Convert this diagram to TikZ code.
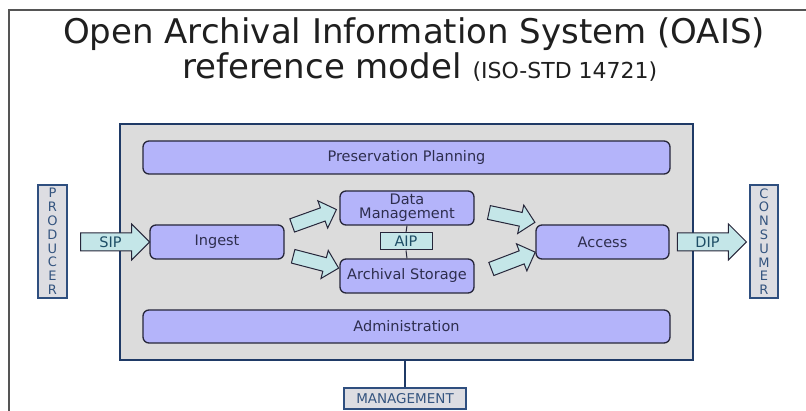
\documentclass[tikz,border=0pt]{standalone}
\usepackage{fontspec}
\setmainfont{DejaVu Sans}
\usetikzlibrary{shapes.arrows,calc}

\definecolor{framegray}{HTML}{555555}
\definecolor{navy}{HTML}{1F3A66}
\definecolor{panelgray}{HTML}{DCDCDC}
\definecolor{lavender}{HTML}{B4B4FA}
\definecolor{boxline}{HTML}{26263A}
\definecolor{boxtext}{HTML}{2E2E4E}
\definecolor{aqua}{HTML}{C4E6E8}
\definecolor{aquatext}{HTML}{1E4E66}
\definecolor{actorgray}{HTML}{DDDDE2}
\definecolor{actorline}{HTML}{2F4F7F}
\definecolor{actortext}{HTML}{34547F}

\tikzset{
  funcbox/.style={draw=boxline, line width=1.3pt, fill=lavender, rounded corners=6pt,
    inner sep=0pt, text=boxtext, font=\fontsize{14.5}{14}\selectfont, align=center},
  actorbox/.style={draw=actorline, line width=1.5pt, fill=actorgray, inner sep=0pt,
    text=actortext, align=center, font=\fontsize{13}{13.8}\selectfont},
  fatarrow/.style={single arrow, draw=boxline, line width=1pt, fill=aqua,
    single arrow head extend=8pt, inner xsep=0pt, text=aquatext,
    font=\fontsize{14.5}{14}\selectfont},
  bigarrow/.style={fatarrow, single arrow head extend=9pt,
    text height=10.5pt, text depth=0pt, inner ysep=3.25pt},
  smallarrow/.style={fatarrow, single arrow head extend=7.5pt,
    inner ysep=6.5pt, minimum height=47pt},
  link/.style={draw=boxline, line width=1pt},
}

\begin{document}
\begin{tikzpicture}[x=1pt, y=-1pt]
  \useasboundingbox (0,0) rectangle (806,411);
  \fill[white] (0,0) rectangle (806,411);

  % slide frame
  \draw[framegray, line width=1.5pt] (9,411) -- (9,10) -- (806,10);

  % title
  \node[text=black!88, font=\fontsize{34}{34}\selectfont] (title1) at (414,34)
    {Open Archival Information System (OAIS)};
  \node[text=black!88, font=\fontsize{34}{34}\selectfont] (title2) at (420,67)
    {reference model {\fontsize{22}{22}\selectfont (ISO-STD 14721)}};

  % OAIS panel
  \node[draw=navy, line width=2.5pt, fill=panelgray, minimum width=573pt,
        minimum height=236pt, inner sep=0pt] (oais) at (406.5,242) {};

  % functional entities
  \node[funcbox, minimum width=527pt, minimum height=33pt] (pp) at (406.5,157.5)
    {Preservation Planning};
  \node[funcbox, minimum width=134pt, minimum height=34pt] (ingest) at (217,242)
    {Ingest};
  \node[funcbox, minimum width=134pt, minimum height=34pt] (dm) at (407,208)
    {Data\\Management};
  \node[funcbox, minimum width=134pt, minimum height=34pt] (as) at (407,276)
    {Archival Storage};
  \node[funcbox, minimum width=133pt, minimum height=34pt] (access) at (602.5,242)
    {Access};
  \node[funcbox, minimum width=527pt, minimum height=33pt] (admin) at (406.5,326.5)
    {Administration};

  % AIP between data management and archival storage
  \node[draw=boxline, line width=1pt, fill=aqua, minimum width=52pt,
        minimum height=17pt, inner sep=0pt, text=aquatext,
        font=\fontsize{14.5}{14}\selectfont] (aip) at (406,241.5) {AIP};
  \draw[link] (dm.south) -- (aip.north);
  \draw[link] (aip.south) -- (as.north);

  % external entities
  \node[actorbox, minimum width=29pt, minimum height=113pt] (producer) at (52.5,241.5)
    {P\\R\\O\\D\\U\\C\\E\\R};
  \node[actorbox, minimum width=28pt, minimum height=113pt] (consumer) at (764,241.5)
    {C\\O\\N\\S\\U\\M\\E\\R};
  \node[actorbox, minimum width=122pt, minimum height=21pt,
        font=\fontsize{13.5}{14}\selectfont] (mgmt) at (405,398.5) {MANAGEMENT};
  \draw[navy, line width=2pt] (oais.south -| mgmt.north) -- (mgmt.north);

  % SIP and DIP flows
  \coordinate (sipS) at ([xshift=9pt]producer.east |- ingest.west);
  \coordinate (sipT) at ([xshift=-5pt]ingest.west);
  \path (sipS) -- node[bigarrow, minimum height=69pt] (sip) {SIP} (sipT);
  \coordinate (dipS) at ([xshift=4pt]access.east);
  \coordinate (dipT) at ([xshift=-8pt]consumer.west |- access.east);
  \path (dipS) -- node[bigarrow, minimum height=69pt] (dip) {DIP} (dipT);

  % internal flows
  \path ([shift={(5,2)}]ingest.north east) -- node[smallarrow, sloped] (f1) {}
        ([shift={(-7,3)}]dm.west);
  \path ([shift={(6,-4)}]ingest.south east) -- node[smallarrow, sloped] (f2) {}
        ([shift={(-5,-9)}]as.west);
  \path ([shift={(12,4)}]dm.east) -- node[smallarrow, sloped] (f3) {}
        ([shift={(-5,-3)}]access.north west);
  \path ([shift={(14,-6)}]as.east) -- node[smallarrow, sloped] (f4) {}
        ([shift={(-4,-6)}]access.south west);
\end{tikzpicture}
\end{document}
